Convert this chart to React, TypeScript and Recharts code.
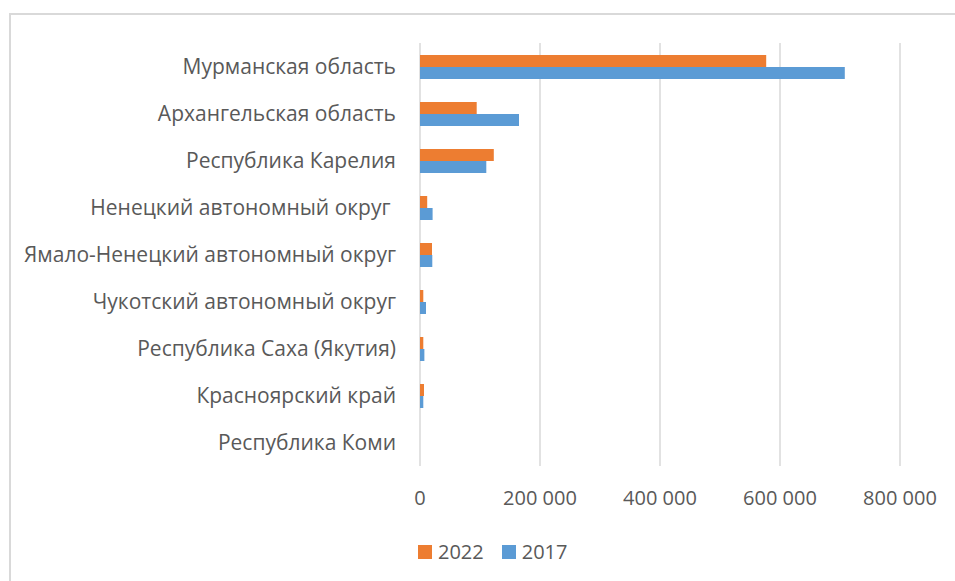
import { BarChart, Bar, XAxis, YAxis, CartesianGrid } from "recharts";

const regions = [
  "Мурманская область",
  "Архангельская область",
  "Республика Карелия",
  "Ненецкий автономный округ\u00A0",
  "Ямало-Ненецкий автономный округ",
  "Чукотский автономный округ",
  "Республика Саха (Якутия)",
  "Красноярский край",
  "Республика Коми",
];

const values2022 = [577000, 94500, 123000, 12000, 20000, 5500, 5500, 6700, 0];
const values2017 = [708000, 165000, 110500, 21000, 20500, 10000, 7300, 5500, 0];

const xTicks = [0, 200000, 400000, 600000, 800000];

const COLOR_2022 = "#ED7D31";
const COLOR_2017 = "#5B9BD5";
const TEXT = "#595959";
const GRID = "#d9d9d9";
const FONT = "'Open Sans', sans-serif";

const data = regions.map((name, i) => ({
  name,
  y2022: values2022[i],
  y2017: values2017[i],
}));

const fmt = (v: number) => String(v).replace(/\B(?=(\d{3})+(?!\d))/g, " ");

function LegendItem({ color, label }: { color: string; label: string }) {
  return (
    <div style={{ display: "flex", alignItems: "center", marginRight: 18 }}>
      <span style={{ width: 14, height: 14, background: color, marginRight: 6 }} />
      <span>{label}</span>
    </div>
  );
}

export default function App() {
  return (
    <div
      style={{
        position: "fixed",
        left: 0,
        top: 0,
        width: 955,
        height: 581,
        overflow: "hidden",
        background: "#fff",
        fontFamily: FONT,
      }}
    >
      {/* chart frame: only the top and left edges are visible in the crop */}
      <div style={{ position: "absolute", left: 9, top: 13, width: 946, height: 1.5, background: GRID }} />
      <div style={{ position: "absolute", left: 9, top: 13, width: 1.5, height: 568, background: GRID }} />
      <div style={{ position: "absolute", left: 0, top: 0 }}>
        <BarChart
          width={955}
          height={581}
          data={data}
          layout="vertical"
          margin={{ top: 43, right: 55, bottom: 85, left: 0 }}
          barGap={0}
          barSize={12}
        >
          <CartesianGrid horizontal={false} stroke={GRID} strokeWidth={1.5} />
          <XAxis
            type="number"
            domain={[0, 800000]}
            ticks={xTicks}
            tickFormatter={fmt}
            axisLine={false}
            tickLine={false}
            tickSize={0}
            tickMargin={25}
            height={30}
            tick={{ fill: TEXT, fontSize: 20, fontFamily: FONT }}
          />
          <YAxis
            type="category"
            dataKey="name"
            width={420}
            axisLine={false}
            tickLine={false}
            tickSize={0}
            tickMargin={24}
            interval={0}
            tick={{ fill: TEXT, fontSize: 21, fontFamily: FONT }}
          />
          <Bar dataKey="y2022" name="2022" fill={COLOR_2022} isAnimationActive={false} />
          <Bar dataKey="y2017" name="2017" fill={COLOR_2017} isAnimationActive={false} />
        </BarChart>
      </div>
      <div
        style={{
          position: "absolute",
          left: 418,
          top: 538,
          display: "flex",
          color: TEXT,
          fontSize: 20,
        }}
      >
        <LegendItem color={COLOR_2022} label="2022" />
        <LegendItem color={COLOR_2017} label="2017" />
      </div>
    </div>
  );
}
